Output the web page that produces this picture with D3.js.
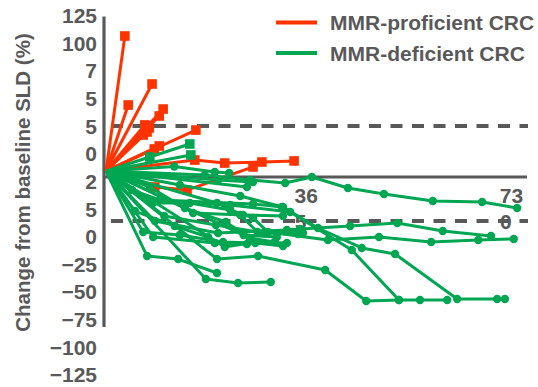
<!DOCTYPE html>
<html lang="en">
<head>
<meta charset="UTF-8">
<title>Spider plot SLD</title>
<script src="https://cdn.jsdelivr.net/npm/d3@7"></script>
<style>
  body { margin: 0; background: #fff; }
  text { font-family: Arial, "Liberation Sans", sans-serif; font-weight: bold; fill: #595959; }
</style>
</head>
<body>
<div id="chart"></div>
<script>

// each patient: [week, % change from baseline SLD], all start at [0, 0]
var proficient = [
  [[3.4, 90]],
  [[8.3, 58]],
  [[4.0, 44]],
  [[10.3, 41.3]],
  [[9.6, 36.7]],
  [[7.0, 30.7]],
  [[7.8, 28.7]],
  [[6.7, 24]],
  [[7.4, 26]],
  [[16.2, 27.3]],
  [[8.7, 14.7]],
  [[9.6, 16.7]],
  [[16.0, 7.3], [21.4, 5.3], [28.1, 6], [33.9, 6.7]],
  [[8.8, -10.7], [14.6, -12.7], [26.5, 2.7]]
];

var deficient = [
  [[7.9, 9.3], [15.1, 18]],
  [[15.3, 10.7]],
  [[17.8, -2.7], [26, -6], [32.3, -8], [37.1, -4], [43.6, -11.3], [50.1, -15.3], [58.9, -20], [67.8, -20.7], [74.1, -24.7]],
  [[7.9, -10.7], [15.7, -28], [24.7, -29.3], [31.9, -30]],
  [[4.7, -12.7], [9.7, -19.3], [26.5, -22], [31.7, -24]],
  [[8.5, -21.3], [15.1, -21.3], [22.4, -26], [26.5, -31.3], [29.2, -40.7], [40, -46], [49.2, -44], [58.6, -47.3], [67.1, -46], [73.5, -45.3]],
  [[8.8, -33.3], [20.2, -41.3], [32.6, -39.3], [35, -38.7], [44, -36.7], [52.5, -34.7], [60.7, -40], [69.4, -43.3]],
  [[6.7, -40.7], [13.3, -42.7], [21.1, -47.3], [26.9, -48], [31.9, -50]],
  [[8.5, -44], [19.6, -48], [25.4, -48.7]],
  [[7.4, -56.7], [13, -58.7], [20, -68]],
  [[18, -72], [23.8, -74.7], [29.7, -74]],
  [[20, -58.7], [27.4, -56.7], [39.5, -66], [46.9, -86.7], [52.8, -86], [56.6, -86], [61.5, -86]],
  [[7.9, -19.3], [22.4, -22.7], [33.2, -27.3], [44.3, -52.7], [52.8, -86]],
  [[13.3, -9.3], [24.2, -16.7], [31.9, -24], [38.2, -38], [46.1, -51.3], [52.1, -55.3], [63.3, -85.3], [70.5, -85.3], [71.9, -85.3]],
  [[12.3, 3], [19.6, -0.7], [22.2, -1.3]],
  [[20.2, -6], [26.5, -7.3]],
  [[25.4, -10.7]],
  [[20, -21.3], [24.2, -29.3], [27.3, -40.7], [33.7, -40.7], [35.5, -41.3]],
  [[21.4, -50.7], [26.9, -47.3], [32.6, -48]],
  [[24.8, -42.7], [30.8, -44]],
  [[10.5, -30], [19.8, -36], [28.4, -41.3], [34.6, -42]],
  [[14.2, -24.7], [21.6, -34], [25.9, -44.7], [30.4, -47.3]],
  [[5.2, -26.7], [12.4, -36.7], [18.4, -44]]
];

// patients in the deficient group drawn with square markers
var deficientSquares = [0, 1];

var yTickLabels = ["125", "100", "7", "5", "5", "0", "2", "5", "0", "\u221225", "\u221250", "\u221275", "\u2212100", "\u2212125"];
var xTickValues = [36, 73];
var lowTickValues = [35, 72];
var lowTickLabels = ["5", "0"];
var refSolid = -4;
var refDashed = [30, -33.3];
var legendLabels = ["MMR-proficient CRC", "MMR-deficient CRC"];

var red = "#ff3300", green = "#00a651", grey = "#595959";

var width = 538, height = 387;

var svg = d3.select("#chart")
  .append("svg")
    .attr("width", width)
    .attr("height", height);

var x = d3.scaleLinear().domain([0, 73]).range([106, 511]);
var y = d3.scaleLinear().domain([-104, 103]).range([327, 16.5]);

// y tick labels (evenly spaced)
var yTicks = d3.scalePoint().domain(d3.range(yTickLabels.length)).range([16, 375]);
var yAxis = svg.append("g")
  .attr("transform", "translate(97,0)")
  .call(d3.axisLeft(yTicks).tickSize(0).tickPadding(0).tickFormat(function(i) { return yTickLabels[i]; }));
yAxis.select(".domain").remove();
yAxis.selectAll("text").style("font-size", "21px").attr("fill", grey);

// axis line
svg.append("line")
  .attr("x1", 104).attr("x2", 104)
  .attr("y1", y.range()[1]).attr("y2", y.range()[0])
  .attr("stroke", grey).attr("stroke-width", 3.2);

// reference lines
svg.append("line")
  .attr("x1", 104).attr("x2", 527)
  .attr("y1", y(refSolid)).attr("y2", y(refSolid))
  .attr("stroke", grey).attr("stroke-width", 3);

svg.selectAll(".dash")
  .data(refDashed)
  .enter()
  .append("line")
    .attr("x1", 111).attr("x2", 528)
    .attr("y1", function(d) { return y(d); })
    .attr("y2", function(d) { return y(d); })
    .attr("stroke", grey)
    .attr("stroke-width", 4)
    .attr("stroke-dasharray", "12,9.5");

// x tick labels under the solid line
var xAxis = svg.append("g")
  .attr("transform", "translate(0," + y(refSolid) + ")")
  .call(d3.axisBottom(x).tickValues(xTickValues).tickSize(0).tickPadding(11));
xAxis.select(".domain").remove();
xAxis.selectAll("text").style("font-size", "21px").attr("fill", grey);

var lowAxis = svg.append("g")
  .attr("transform", "translate(0," + y(refDashed[1]) + ")")
  .call(d3.axisBottom(x).tickValues(lowTickValues).tickSize(0).tickPadding(0)
    .tickFormat(function(d, i) { return lowTickLabels[i]; }));
lowAxis.select(".domain").remove();
lowAxis.selectAll("text").style("font-size", "21px").attr("fill", grey).attr("dy", "0.36em");

var line = d3.line()
  .x(function(d) { return x(d[0]); })
  .y(function(d) { return y(d[1]); });

function drawGroup(data, color, squareIdx) {
  var g = svg.append("g");
  data.forEach(function(pts, i) {
    var full = [[0, 0]].concat(pts);
    g.append("path")
      .attr("d", line(full))
      .attr("fill", "none")
      .attr("stroke", color)
      .attr("stroke-width", 3)
      .attr("stroke-linejoin", "round");
    var square = squareIdx === true || (squareIdx && squareIdx.indexOf(i) >= 0);
    if (square) {
      g.selectAll(null)
        .data(pts)
        .enter()
        .append("rect")
          .attr("x", function(d) { return x(d[0]) - 4.8; })
          .attr("y", function(d) { return y(d[1]) - 4.8; })
          .attr("width", 9.6)
          .attr("height", 9.6)
          .attr("fill", color);
    } else {
      g.selectAll(null)
        .data(pts)
        .enter()
        .append("circle")
          .attr("cx", function(d) { return x(d[0]); })
          .attr("cy", function(d) { return y(d[1]); })
          .attr("r", 4.2)
          .attr("fill", color);
    }
  });
}

drawGroup(proficient, red, true);
drawGroup(deficient, green, deficientSquares);

// legend
var legend = svg.selectAll(".legend")
  .data(legendLabels)
  .enter()
  .append("g")
    .attr("transform", function(d, i) { return "translate(276," + (22.5 + i * 30.5) + ")"; });
legend.append("line")
  .attr("x1", 0).attr("x2", 41)
  .attr("stroke", function(d, i) { return i === 0 ? red : green; })
  .attr("stroke-width", 3.8);
legend.append("text")
  .attr("x", 54)
  .attr("dy", "0.36em")
  .style("font-size", "21px")
  .text(function(d) { return d; });

// y axis title
svg.append("text")
  .attr("transform", "translate(29.5,182.5) rotate(-90)")
  .style("text-anchor", "middle")
  .style("font-size", "20.5px")
  .text("Change from baseline SLD (%)");

</script>
</body>
</html>
